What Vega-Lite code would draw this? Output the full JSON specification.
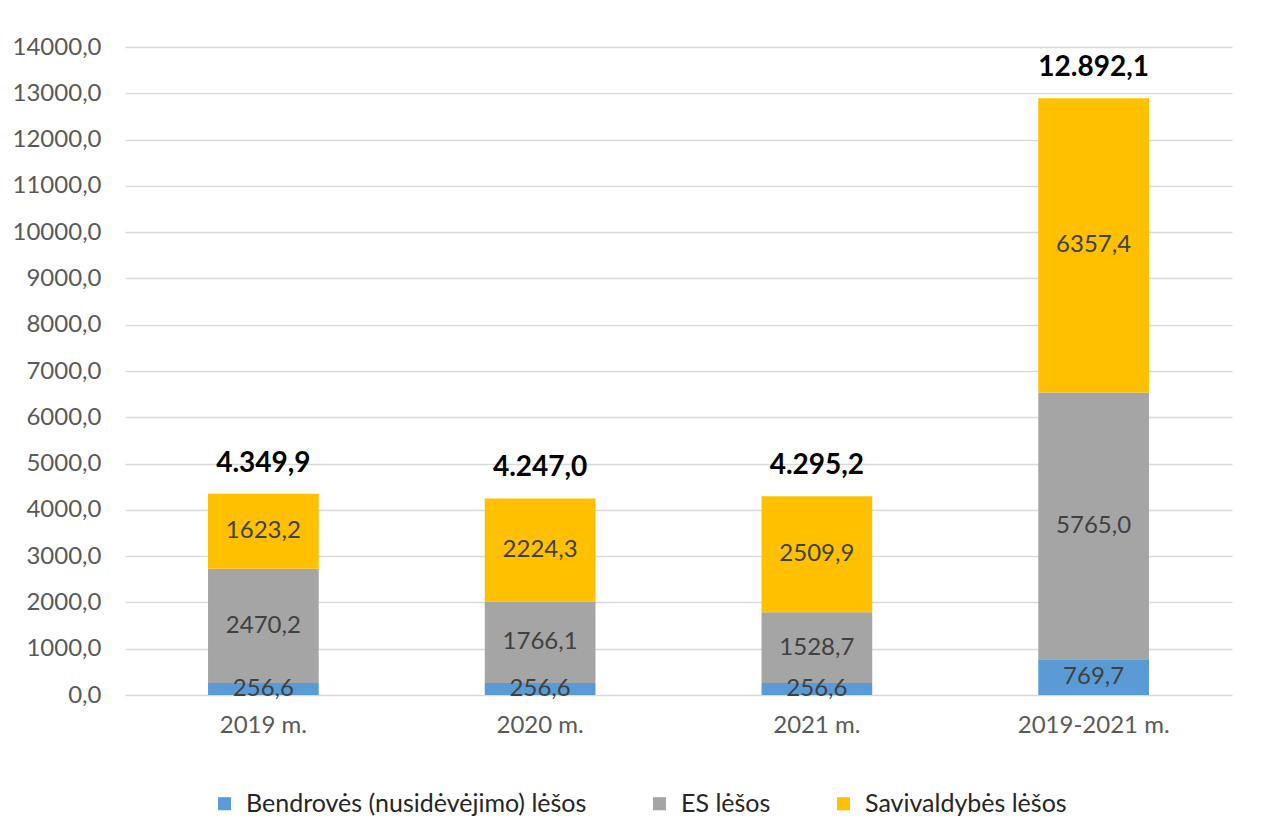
{
  "$schema": "https://vega.github.io/schema/vega-lite/v6.json",
  "autosize": "none",
  "width": 1107,
  "height": 648,
  "padding": {"left": 125, "top": 47, "right": 33, "bottom": 145},
  "background": "white",
  "config": {
    "locale": {"number": {"decimal": ",", "thousands": ".", "grouping": [3], "currency": ["", " €"]}},
    "view": {"stroke": null},
    "font": "Lato",
    "axisY": {"values": [0,1000,2000,3000,4000,5000,6000,7000,8000,9000,10000,11000,12000,13000,14000], "format": ".1f", "title": null, "domain": false, "ticks": false, "labelPadding": 24, "labelFontSize": 24, "labelColor": "#595959", "gridColor": "#d9d9d9", "gridWidth": 1.5, "labelOverlap": false}
  },
  "datasets": {
    "parts": [
      {"period": "2019 m.", "source": "Bendrovės (nusidėvėjimo) lėšos", "value": 256.6},
      {"period": "2019 m.", "source": "ES lėšos", "value": 2470.2},
      {"period": "2019 m.", "source": "Savivaldybės lėšos", "value": 1623.2},
      {"period": "2020 m.", "source": "Bendrovės (nusidėvėjimo) lėšos", "value": 256.6},
      {"period": "2020 m.", "source": "ES lėšos", "value": 1766.1},
      {"period": "2020 m.", "source": "Savivaldybės lėšos", "value": 2224.3},
      {"period": "2021 m.", "source": "Bendrovės (nusidėvėjimo) lėšos", "value": 256.6},
      {"period": "2021 m.", "source": "ES lėšos", "value": 1528.7},
      {"period": "2021 m.", "source": "Savivaldybės lėšos", "value": 2509.9},
      {"period": "2019-2021 m.", "source": "Bendrovės (nusidėvėjimo) lėšos", "value": 769.7},
      {"period": "2019-2021 m.", "source": "ES lėšos", "value": 5765.0},
      {"period": "2019-2021 m.", "source": "Savivaldybės lėšos", "value": 6357.4}
    ],
    "totals": [
      {"period": "2019 m.", "total": 4349.9},
      {"period": "2020 m.", "total": 4247.0},
      {"period": "2021 m.", "total": 4295.2},
      {"period": "2019-2021 m.", "total": 12892.1}
    ]
  },
  "encoding": {
    "x": {
      "field": "period", "type": "nominal",
      "sort": ["2019 m.", "2020 m.", "2021 m.", "2019-2021 m."],
      "scale": {"paddingInner": 0.6, "paddingOuter": 0.3},
      "axis": {"title": null, "labelAngle": 0, "domain": false, "ticks": false, "labelPadding": 18, "labelFontSize": 24, "labelColor": "#595959"}
    }
  },
  "layer": [
    {
      "data": {"name": "parts"},
      "mark": {"type": "bar"},
      "encoding": {
        "y": {"field": "value", "type": "quantitative", "stack": "zero", "scale": {"domain": [0, 14000]}},
        "order": {"field": "source", "type": "nominal", "sort": "ascending"},
        "color": {
          "field": "source", "type": "nominal",
          "scale": {"domain": ["Bendrovės (nusidėvėjimo) lėšos", "ES lėšos", "Savivaldybės lėšos"], "range": ["#5B9BD5", "#A5A5A5", "#FFC000"]},
          "legend": {"title": null, "orient": "none", "direction": "horizontal", "legendX": 87, "legendY": 744, "symbolType": "square", "symbolSize": 170, "symbolStrokeWidth": 0, "labelFontSize": 25, "labelColor": "#262626", "labelLimit": 0, "columnPadding": 60, "labelOffset": 9}
        }
      }
    },
    {
      "data": {"name": "parts"},
      "transform": [
        {"stack": "value", "groupby": ["period"], "sort": [{"field": "source"}], "as": ["y0", "y1"]},
        {"calculate": "(datum.y0 + datum.y1) / 2", "as": "mid"}
      ],
      "mark": {"type": "text", "fontSize": 24, "color": "#404040", "baseline": "middle"},
      "encoding": {
        "y": {"field": "mid", "type": "quantitative"},
        "text": {"field": "value", "type": "quantitative", "format": ".1f"}
      }
    },
    {
      "data": {"name": "totals"},
      "mark": {"type": "text", "fontSize": 28, "fontWeight": "bold", "color": "#000000", "baseline": "bottom", "dy": -16},
      "encoding": {
        "y": {"field": "total", "type": "quantitative"},
        "text": {"field": "total", "type": "quantitative", "format": ",.1f"}
      }
    }
  ]
}
